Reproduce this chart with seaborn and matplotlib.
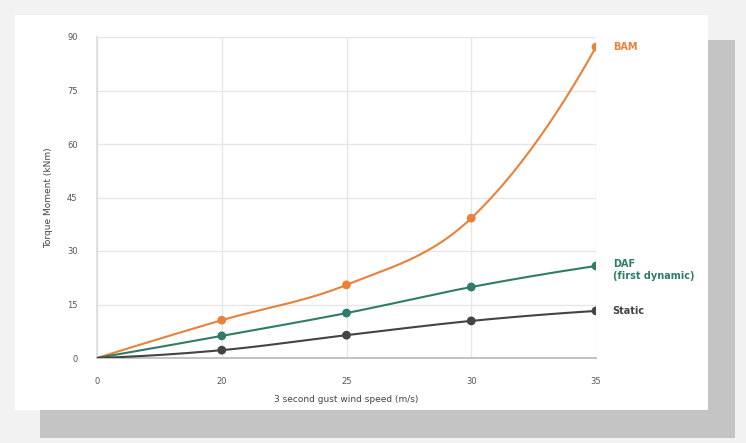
import numpy as np
import pandas as pd
import matplotlib
matplotlib.use("Agg")
import matplotlib.pyplot as plt
import seaborn as sns
from matplotlib.patches import Rectangle

# ---- data ----
wind_speed = ["0", "20", "25", "30", "35"]
bam = [0, 10.6, 20.5, 39.2, 87.2]
daf = [0, 6.2, 12.6, 19.9, 25.8]
static = [0, 2.2, 6.4, 10.4, 13.2]
y_ticks = [0, 15, 30, 45, 60, 75, 90]

series_names = ["BAM", "DAF\n(first dynamic)", "Static"]
series_vals = [bam, daf, static]
colors = ["#e8823a", "#2f7d68", "#444444"]

sns.set_theme(style="white")
plt.rcParams["font.family"] = ["DejaVu Sans"]

fig = plt.figure(figsize=(7.46, 4.43), dpi=100)
fig.patch.set_facecolor("#f2f2f2")

# card with shadow
W, H = 746, 443
fig.add_artist(Rectangle((40 / W, 1 - 438 / H), 695 / W, 398 / H,
                         transform=fig.transFigure, facecolor="#c4c4c4", edgecolor="none", zorder=0))
fig.add_artist(Rectangle((15 / W, 1 - 410 / H), 693 / W, 395 / H,
                         transform=fig.transFigure, facecolor="white", edgecolor="none", zorder=0))

ax = fig.add_axes([97 / W, 1 - 358 / H, (596 - 97) / W, (358 - 37) / H])
ax.set_facecolor("none")

xpos = np.arange(len(wind_speed))
rows = []
for name, vals in zip(series_names, series_vals):
    for xp, v in zip(xpos, vals):
        rows.append({"x": xp, "y": v, "series": name})
df = pd.DataFrame(rows)


def smooth(x, y, n=60):
    # Catmull-Rom curve through the points (drawing only)
    x = np.asarray(x, float); y = np.asarray(y, float)
    d = np.diff(y) / np.diff(x)
    m = np.zeros_like(y)
    for i in range(1, len(y) - 1):
        m[i] = (y[i + 1] - y[i - 1]) / (x[i + 1] - x[i - 1])
    m[0] = 2 * d[0] - m[1]
    m[-1] = 2 * d[-1] - m[-2]
    xs, ys = [], []
    for i in range(len(x) - 1):
        h = x[i + 1] - x[i]
        t = np.linspace(0, 1, n, endpoint=(i == len(x) - 2))
        h00 = 2 * t**3 - 3 * t**2 + 1; h10 = t**3 - 2 * t**2 + t
        h01 = -2 * t**3 + 3 * t**2; h11 = t**3 - t**2
        xs.append(x[i] + t * h)
        ys.append(h00 * y[i] + h10 * h * m[i] + h01 * y[i + 1] + h11 * h * m[i + 1])
    return np.concatenate(xs), np.concatenate(ys)


for name, c in zip(series_names, colors):
    sub = df[df["series"] == name]
    sx, sy = smooth(sub["x"], sub["y"])
    sns.lineplot(x=sx, y=sy, ax=ax, color=c, linewidth=1.5, zorder=3)
    sns.scatterplot(x=sub["x"].iloc[1:], y=sub["y"].iloc[1:], ax=ax, color=c, s=40,
                    edgecolor="none", zorder=4, legend=False)
    multi = "\n" in name
    ax.annotate(name, (sub["x"].iloc[-1], sub["y"].iloc[-1]), xytext=(12, 5 if multi else 0),
                textcoords="offset points", color=c, fontsize=7,
                va="top" if multi else "center", ha="left", fontweight="semibold",
                annotation_clip=False)

ax.set_xlim(0, 4)
ax.set_ylim(0, 90)
ax.set_xticks(xpos)
ax.set_xticklabels(wind_speed)
ax.set_yticks(y_ticks)
ax.grid(True, color="#e6e6e6", linewidth=1)
for s in ["top", "right"]:
    ax.spines[s].set_visible(False)
ax.spines["left"].set_color("#dddddd")
ax.spines["bottom"].set_color("#bbbbbb")
ax.tick_params(axis="both", labelsize=6, colors="#555555", length=0, pad=14)
ax.set_xlabel("3 second gust wind speed (m/s)", fontsize=6.5, color="#444444", labelpad=6)
ax.set_ylabel("Torque Moment (kNm)", fontsize=6.5, color="#444444", labelpad=10)

fig.savefig("out.png", dpi=100, facecolor=fig.get_facecolor())
